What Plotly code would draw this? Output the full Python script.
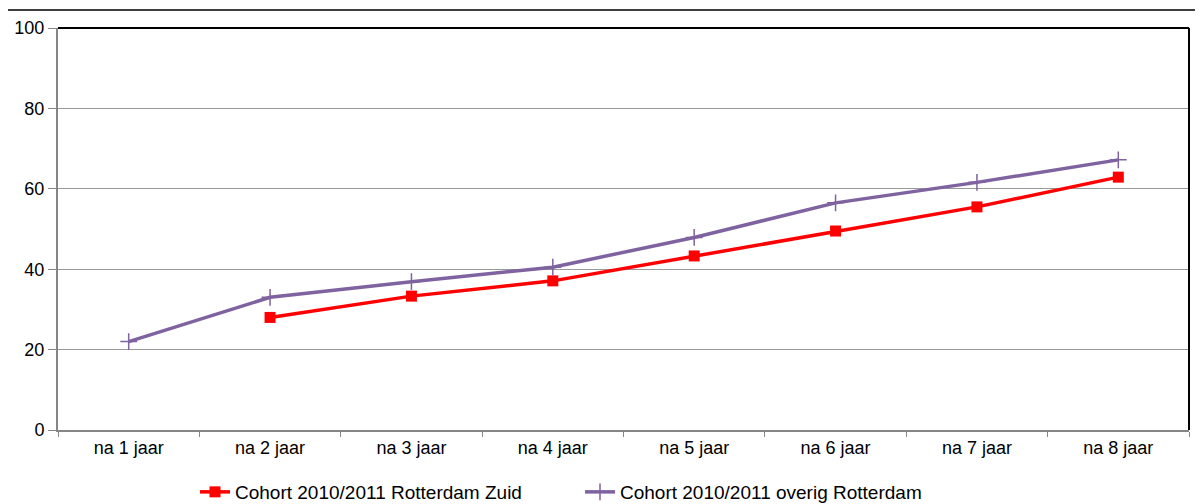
import plotly.graph_objects as go

categories = ["na 1 jaar", "na 2 jaar", "na 3 jaar", "na 4 jaar", "na 5 jaar", "na 6 jaar", "na 7 jaar", "na 8 jaar"]
zuid = [None, 28.0, 33.3, 37.1, 43.3, 49.5, 55.5, 62.9]
overig = [22.0, 33.0, 36.9, 40.5, 47.9, 56.5, 61.6, 67.2]
y_ticks = [0, 20, 40, 60, 80, 100]

fig = go.Figure()
fig.add_trace(go.Scatter(
    x=categories, y=zuid, name="Cohort 2010/2011 Rotterdam Zuid",
    mode="lines+markers",
    line=dict(color="#FF0000", width=3.5),
    marker=dict(symbol="square", size=11, color="#FF0000"),
))
fig.add_trace(go.Scatter(
    x=categories, y=overig, name="Cohort 2010/2011 overig Rotterdam",
    mode="lines+markers",
    line=dict(color="#7F62A0", width=3.5),
    marker=dict(symbol="cross-thin", size=12, line=dict(color="#7F62A0", width=1.5)),
))

OFF = 8  # page body margin
PAGE_W, PAGE_H = 1203, 504
W, H = PAGE_W - OFF, PAGE_H - OFF
# target plot area in page pixels: x 58..1189, y 28..430
ml, mt = 58 - OFF, 28 - OFF
mr = W - (1189 - OFF)
mb = H - (430 - OFF)
pw, ph = W - ml - mr, H - mt - mb

def px(x):
    return (x - OFF - ml) / pw

def py(y):
    return (H - mb - (y - OFF)) / ph

fig.update_layout(
    width=W, height=H,
    margin=dict(l=ml, r=mr, t=mt, b=mb, autoexpand=False),
    paper_bgcolor="white", plot_bgcolor="white",
    font=dict(family="Liberation Sans, Arial", size=18, color="black"),
    showlegend=True,
    legend=dict(orientation="h", x=px(195), xanchor="left", y=py(492), yanchor="middle",
                font=dict(size=19), tracegroupgap=0, bgcolor="rgba(0,0,0,0)",
                entrywidth=340, entrywidthmode="pixels"),
    xaxis=dict(
        type="category", range=[-0.5, 7.5], showgrid=False,
        showline=True, linecolor="#868686", linewidth=2,
        ticks="outside", ticklen=5, tickcolor="#868686", tickson="boundaries",
        tickfont=dict(size=18), zeroline=False,
    ),
    yaxis=dict(
        range=[0, 100], tickvals=y_ticks, showgrid=True, gridcolor="#999999", gridwidth=1,
        showline=True, linecolor="#868686", linewidth=2,
        ticks="outside", ticklen=8, tickcolor="#868686",
        tickfont=dict(size=18), zeroline=False,
    ),
    shapes=[
        dict(type="line", xref="paper", yref="paper", x0=0, x1=1, y0=1, y1=1,
             line=dict(color="black", width=2)),
        dict(type="line", xref="paper", yref="paper", x0=1, x1=1, y0=0, y1=1,
             line=dict(color="black", width=2)),
        dict(type="rect", xref="paper", yref="paper", x0=px(7), x1=px(1215), y0=py(10), y1=py(520),
             line=dict(color="black", width=1.5)),
    ],
)

fig.write_html("out.html")
